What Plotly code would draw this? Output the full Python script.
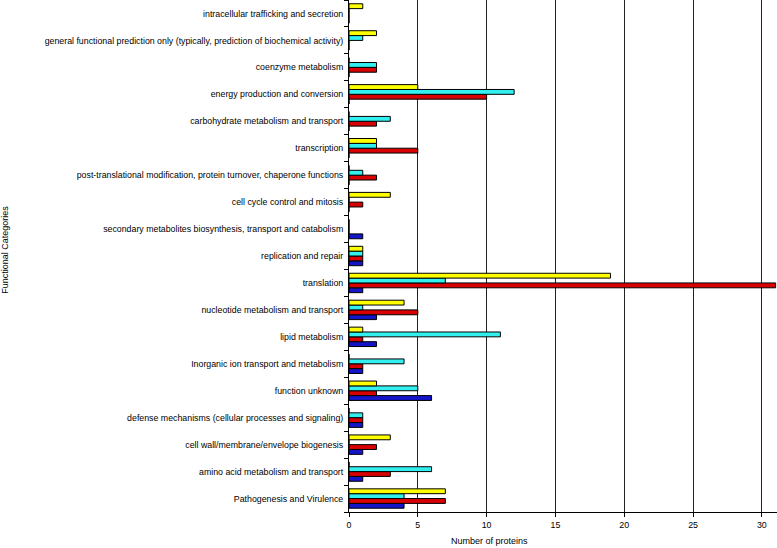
import plotly.graph_objects as go

# categories listed bottom -> top
categories = [
    "Pathogenesis and Virulence",
    "amino acid metabolism and transport",
    "cell wall/membrane/envelope biogenesis",
    "defense mechanisms (cellular processes and signaling)",
    "function unknown",
    "Inorganic ion transport and metabolism",
    "lipid metabolism",
    "nucleotide metabolism and transport",
    "translation",
    "replication and repair",
    "secondary metabolites biosynthesis, transport and catabolism",
    "cell cycle control and mitosis",
    "post-translational modification, protein turnover, chaperone functions",
    "transcription",
    "carbohydrate metabolism and transport",
    "energy production and conversion",
    "coenzyme metabolism",
    "general functional prediction only (typically, prediction of biochemical activity)",
    "intracellular trafficking and secretion",
]

blue = [4, 1, 1, 1, 6, 1, 2, 2, 1, 1, 1, 0, 0, 0, 0, 0, 0, 0, 0]
red = [7, 3, 2, 1, 2, 1, 1, 5, 31, 1, 0, 1, 2, 5, 2, 10, 2, 0, 0]
cyan = [4, 6, 0, 1, 5, 4, 11, 1, 7, 1, 0, 0, 1, 2, 3, 12, 2, 1, 0]
yellow = [7, 0, 3, 0, 2, 0, 1, 4, 19, 1, 0, 3, 0, 2, 0, 5, 0, 2, 1]

series = [
    ("Series 1", blue, "#1414c8"),
    ("Series 2", red, "#d80000"),
    ("Series 3", cyan, "#33f0f0"),
    ("Series 4", yellow, "#ffff00"),
]

fig = go.Figure()
for name, vals, col in series:
    fig.add_trace(go.Bar(
        y=categories, x=vals, name=name, orientation="h",
        marker=dict(color=col, line=dict(color="black", width=1)),
    ))

fig.update_layout(
    width=777, height=548,
    margin=dict(l=349, r=0, t=0, b=36),
    barmode="group", bargap=0.28, bargroupgap=0,
    plot_bgcolor="white", paper_bgcolor="white",
    showlegend=False,
    font=dict(family="Liberation Sans, Arial, sans-serif", size=8.8, color="black"),
)
fig.update_xaxes(
    range=[0, 31.1], tickvals=[0, 5, 10, 15, 20, 25, 30],
    showgrid=True, gridcolor="#222", gridwidth=1,
    showline=True, linecolor="black", linewidth=1,
    ticks="outside", ticklen=4, tickcolor="black", zeroline=False,
)
fig.update_yaxes(
    type="category", categoryorder="array", categoryarray=categories,
    showline=True, linecolor="black", linewidth=1,
    ticks="outside", ticklen=4, tickcolor="black", tickson="boundaries",
    ticklabelstandoff=3, showgrid=False,
)
fig.add_annotation(text="Number of proteins", xref="x", x=10.2, yref="paper", y=-0.057,
                   yanchor="middle", showarrow=False, font=dict(size=9))
fig.add_annotation(text="Functional Categories", xref="paper", yref="paper",
                   x=-344 / 428, y=0.512, textangle=-90, showarrow=False,
                   xanchor="center", yanchor="middle", font=dict(size=9))

fig.write_html("out.html", config={"displayModeBar": False},
               post_script="document.body.style.margin='0px';")
